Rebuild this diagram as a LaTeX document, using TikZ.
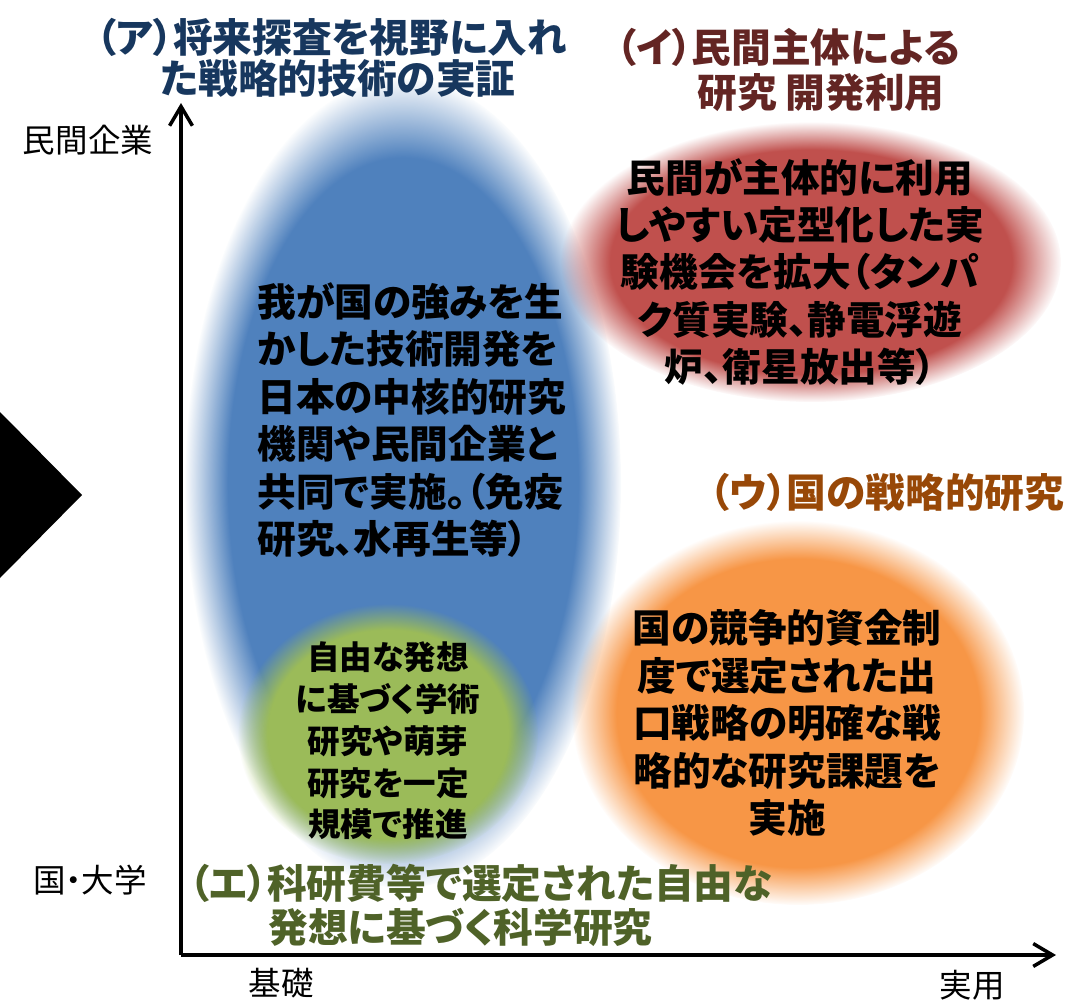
\documentclass[tikz,border=0pt]{standalone}
\usepackage{fontspec}
\setmainfont{Noto Sans CJK JP}[RawFeature=+palt]
\usetikzlibrary{arrows.meta,fadings}
\definecolor{blobblue}{RGB}{79,129,189}
\definecolor{blobred}{RGB}{192,80,77}
\definecolor{blobora}{RGB}{247,150,70}
\definecolor{blobgrn}{RGB}{155,187,89}
\definecolor{tblue}{RGB}{23,55,94}
\definecolor{tred}{RGB}{99,37,35}
\definecolor{tora}{RGB}{152,72,7}
\definecolor{tgrn}{RGB}{79,98,40}
\begin{document}
\begin{tikzpicture}[x=0.02cm,y=-0.02cm,
    body/.style={inner sep=0pt,font=\bfseries\fontsize{22}{27}\selectfont},
    small/.style={inner sep=0pt,font=\bfseries\fontsize{18.5}{23.8}\selectfont},
    ttl/.style={inner sep=0pt,anchor=west,font=\bfseries\fontsize{22.6}{26}\selectfont},
    lbl/.style={inner sep=0pt,font=\fontsize{18.5}{22}\selectfont},
    axis/.style={line width=2pt,-{Straight Barb[length=11pt,width=13pt]}},
    blob/.style={path fading=circle with fuzzy edge 20 percent}]
    \useasboundingbox (0,0) rectangle (1081,1003);
    % soft blobs
    \fill[blobblue,blob] (403,483) ellipse [x radius=218,y radius=405];
    \fill[blobred,blob] (811,262) ellipse [x radius=250,y radius=140];
    \fill[blobora,blob] (798,713) ellipse [x radius=226,y radius=192];
    \fill[blobgrn,blob] (388,734) ellipse [x radius=150,y radius=130];
    % black pointer on the left
    \fill (0,412) -- (82,495) -- (0,578) -- cycle;
    % axes
    \coordinate(O)at(181,955);\coordinate(Yt)at(181,103);\coordinate(Xt)at(1056,955);
    \draw[axis] (O)--(Yt);
    \draw[axis] (O)--(Xt);
    \node[lbl] (yhi) at (88,140) {民間企業};
    \node[lbl] (ylo) at (90,880) {国・大学};
    \node[lbl] (xlo) at (281,983) {基礎};
    \node[lbl] (xhi) at (972,985) {実用};
    % titles
    \node[ttl,text=tblue] (A1) at (96,37) {（ア）将来探査を視野に入れ};
    \node[ttl,text=tblue] (A2) at (160,78) {た戦略的技術の実証};
    \node[ttl,text=tred] (I1) at (616,47) {（イ）民間主体による};
    \node[ttl,text=tred] (I2) at (697,93) {研究 開発利用};
    \node[ttl,text=tora] (U1) at (709,492) {（ウ）国の戦略的研究};
    \node[ttl,text=tgrn] (E1) at (189,883) {（エ）科研費等で選定された自由な};
    \node[ttl,text=tgrn] (E2) at (268,927) {発想に基づく科学研究};
    % texts in the blobs
    \node[body,align=left,anchor=west] (Btxt) at (257,420) {我が国の強みを生\\かした技術開発を\\日本の中核的研究\\機関や民間企業と\\共同で実施。（免疫\\研究、水再生等）};
    \node[body,align=center] (Rtxt) at (800,272) {民間が主体的に利用\\しやすい定型化した実\\験機会を拡大（タンパ\\ク質実験、静電浮遊\\炉、衛星放出等）};
    \node[body,align=center] (Otxt) at (787,723) {国の競争的資金制\\度で選定された出\\口戦略の明確な戦\\略的な研究課題を\\実施};
    \node[small,align=center] (Gtxt) at (388,741) {自由な発想\\に基づく学術\\研究や萌芽\\研究を一定\\規模で推進};
\end{tikzpicture}
\end{document}
